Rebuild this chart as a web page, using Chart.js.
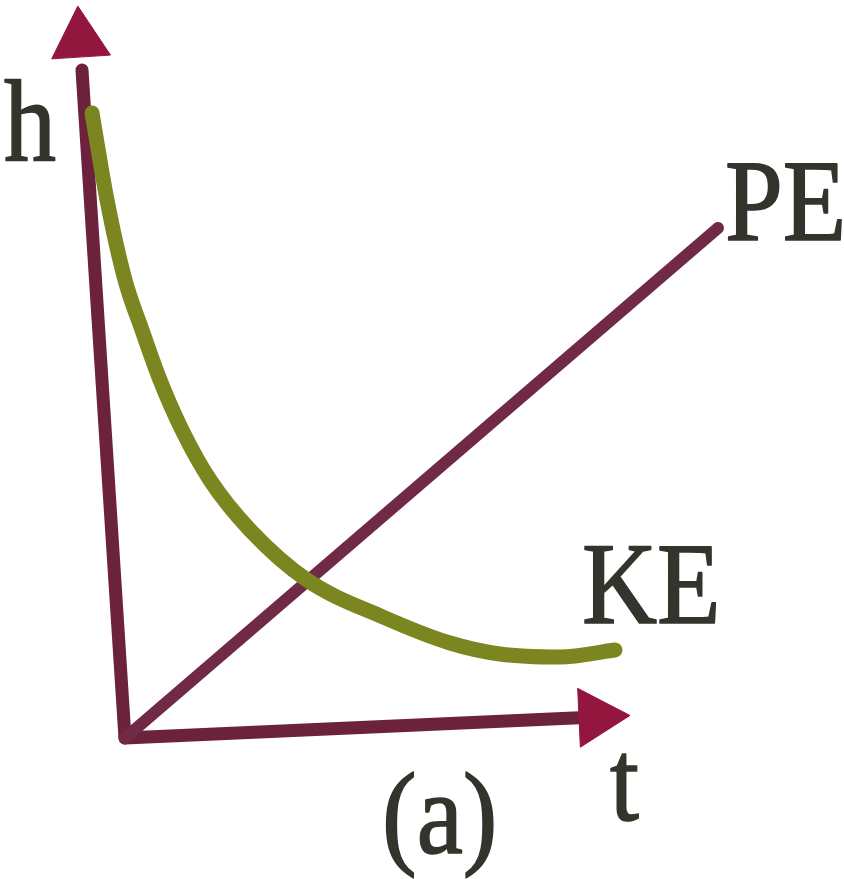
<!DOCTYPE html>
<html>
<head>
<meta charset="utf-8">
<script src="https://cdn.jsdelivr.net/npm/chart.js@4.4.1/dist/chart.umd.min.js"></script>
<style>
  html, body { margin: 0; padding: 0; background: #ffffff; }
  #wrap { width: 844px; height: 879px; position: relative; }
</style>
</head>
<body>
<div id="wrap"><canvas id="chart"></canvas></div>
<script>
// data in t / h units (arbitrary, origin at the axes corner)
const keT = [-0.66, -0.36, 0, 0.34, 0.7, 1.14, 1.7, 2.5, 3.64, 5.16, 6.5, 7.5, 8.7, 9.8];
const keH = [12.5, 10.76, 9.16, 8.16, 7.16, 6.16, 5.16, 4.16, 3.16, 2.42, 1.9, 1.68, 1.62, 1.76];

const peT = [0, 11.86];
const peH = [0, 10.2];

// hand drawn axes lean a little
const yAxisT = [0, -0.86];
const yAxisH = [0, 13.36];
const xAxisT = [0, 9.2];
const xAxisH = [0, 0.41];

const arrowT = [-0.9, 9.42];
const arrowH = [13.96, 0.42];
const arrowRot = [-3.7, 87.4];

const labels = [
  { text: "h", t: -2.42, h: 11.56 },
  { text: "PE", t: 12.0, h: 9.96 },
  { text: "KE", t: 9.14, h: 2.3 },
  { text: "t", t: 9.7, h: -1.64 },
  { text: "(a)", t: 5.14, h: -2.3 }
];

const toPts = (xs, ys) => xs.map((x, i) => ({ x: x, y: ys[i] }));

const axisColor = "rgb(108, 34, 60)";
const headColor = "rgb(146, 22, 62)";
const peColor = "rgb(112, 42, 72)";
const keColor = "rgb(124, 134, 32)";
const labelFont = "104px 'Liberation Serif', 'Times New Roman', serif";

const textPlugin = {
  id: "figText",
  afterDatasetsDraw(chart) {
    const ctx = chart.ctx;
    const xs = chart.scales.x;
    const ys = chart.scales.y;
    ctx.save();
    ctx.fillStyle = "#34342d";
    ctx.strokeStyle = "#34342d";
    ctx.lineWidth = 1.5;
    ctx.lineJoin = "round";
    ctx.font = labelFont;
    ctx.textBaseline = "alphabetic";
    ctx.textAlign = "left";
    labels.forEach((l) => {
      ctx.save();
      ctx.translate(xs.getPixelForValue(l.t), ys.getPixelForValue(l.h));
      ctx.scale(1, 1.12); // lettering in the scan is a bit taller
      ctx.fillText(l.text, 0, 0);
      ctx.strokeText(l.text, 0, 0);
      ctx.restore();
    });
    ctx.restore();
  }
};

function drawChart() {
  new Chart(document.getElementById("chart"), {
    type: "scatter",
    data: {
      datasets: [
        {
          label: "KE",
          data: toPts(keT, keH),
          showLine: true,
          borderColor: keColor,
          borderWidth: 15,
          borderCapStyle: "round",
          borderJoinStyle: "round",
          cubicInterpolationMode: "monotone",
          pointRadius: 0
        },
        {
          label: "PE",
          data: toPts(peT, peH),
          showLine: true,
          borderColor: peColor,
          borderWidth: 12,
          borderCapStyle: "round",
          pointRadius: 0
        },
        {
          label: "arrows",
          data: toPts(arrowT, arrowH),
          showLine: false,
          pointStyle: "triangle",
          pointRadius: 34,
          pointRotation: arrowRot,
          backgroundColor: headColor,
          borderColor: headColor,
          borderWidth: 1
        },
        {
          label: "h axis",
          data: toPts(yAxisT, yAxisH),
          showLine: true,
          borderColor: axisColor,
          borderWidth: 13,
          borderCapStyle: "round",
          pointRadius: 0
        },
        {
          label: "t axis",
          data: toPts(xAxisT, xAxisH),
          showLine: true,
          borderColor: axisColor,
          borderWidth: 13,
          borderCapStyle: "round",
          pointRadius: 0
        }
      ]
    },
    options: {
      responsive: true,
      maintainAspectRatio: false,
      animation: false,
      layout: { padding: 0, autoPadding: false },
      plugins: {
        legend: { display: false },
        tooltip: { enabled: false }
      },
      scales: {
        x: { type: "linear", min: -2.5, max: 14.38, display: false },
        y: { type: "linear", min: -2.82, max: 14.76, display: false }
      }
    },
    plugins: [textPlugin]
  });
}

// make sure the serif face is ready before the canvas text is drawn
document.fonts.load(labelFont).then(drawChart, drawChart);
</script>
</body>
</html>
